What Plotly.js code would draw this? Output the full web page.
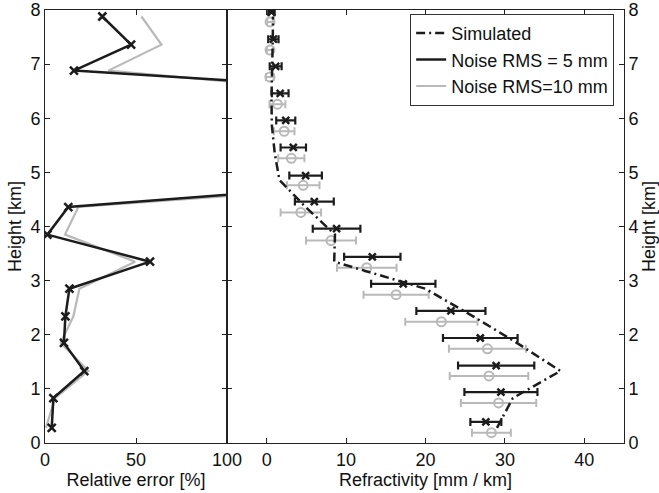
<!DOCTYPE html>
<html><head><meta charset="utf-8">
<script src="https://cdn.plot.ly/plotly-3.0.1.min.js"></script>
<style>html,body{margin:0;padding:0;background:#fff}#chart{width:659px;height:493px}</style>
</head><body><div id="chart"></div><script>
// Heights [km] of the retrieval levels (left panel & simulated profile)
const heights      = [0.28, 0.83, 1.33, 1.85, 2.34, 2.85, 3.35, 3.85, 4.36, 4.86, 5.37, 5.87, 6.38, 6.88, 7.36, 7.88];
// Heights used for plotting the two noisy retrievals (slightly offset in the figure)
const heights5mm   = [0.39, 0.94, 1.43, 1.94, 2.44, 2.94, 3.44, 3.96, 4.46, 4.94, 5.46, 5.96, 6.46, 6.96, 7.46, 7.96];
const heights10mm  = [0.19, 0.74, 1.24, 1.74, 2.24, 2.74, 3.24, 3.74, 4.26, 4.76, 5.26, 5.76, 6.26, 6.76, 7.26, 7.78];

// Relative error [%]
const relErr5mm    = [3.7, 4.6, 21.6, 10.4, 11.2, 13.4, 57.7, 1.3, 12.8, 205, 300, 380, 250, 15.9, 47.3, 31.5];
const relErr10mm   = [0.5, 5.5, 23.8, 8.6, 15.6, 18.9, 49.5, 11.0, 18.3, 222, 300, 350, 198, 34.8, 64, 53];

// Refractivity [mm/km]
const simulatedN   = [29.0, 31.0, 37.0, 31.5, 26.0, 20.0, 8.5, 8.6, 4.9, 1.6, 1.0, 0.65, 0.6, 0.7, 0.75, 0.8];
const noisy5mmN    = [27.6, 29.5, 28.9, 26.9, 23.2, 17.2, 13.3, 8.8, 6.0, 4.9, 3.35, 2.4, 1.7, 1.13, 0.84, 0.6];
const noisy5mmErr  = [1.95, 4.6, 4.8, 4.7, 4.35, 4.05, 3.55, 3.0, 2.45, 2.05, 1.6, 1.2, 1.05, 0.75, 0.65, 0.4];
const noisy10mmN   = [28.3, 29.2, 28.0, 27.8, 22.0, 16.3, 12.6, 8.1, 4.3, 4.6, 3.1, 2.2, 1.35, 0.4, 0.42, 0.42];
const noisy10mmErr = [2.45, 4.75, 4.95, 4.85, 4.55, 4.1, 3.75, 3.15, 2.55, 2.05, 1.65, 1.3, 1.0, 0.5, 0.4, 0.35];

const legendNames = ['Simulated', 'Noise RMS = 5 mm', 'Noise RMS=10 mm'];
const relTicks = [0, 50, 100];
const refTicks = [0, 10, 20, 30, 40];
const hTicks = [0, 1, 2, 3, 4, 5, 6, 7, 8];

const BLACK = '#1c1c1c', GRAY = '#b9b9b9';
const FONT = 'Liberation Sans, Arial, Helvetica, sans-serif';

const traces = [
  // Left panel
  {x: relErr10mm, y: heights, xaxis: 'x', yaxis: 'y', mode: 'lines', showlegend: false,
   line: {color: GRAY, width: 2.2}},
  {x: relErr5mm, y: heights, xaxis: 'x', yaxis: 'y', mode: 'lines+markers', showlegend: false,
   line: {color: BLACK, width: 2.5},
   marker: {symbol: 'x-thin-open', size: 8, color: BLACK, line: {color: BLACK, width: 2.5}}},
  // Right panel
  {x: noisy10mmN, y: heights10mm, xaxis: 'x2', yaxis: 'y2', mode: 'markers', showlegend: false,
   marker: {symbol: 'circle-open', size: 9, color: GRAY, line: {color: GRAY, width: 2}},
   error_x: {type: 'data', array: noisy10mmErr, color: GRAY, thickness: 2, width: 4}},
  {x: noisy5mmN, y: heights5mm, xaxis: 'x2', yaxis: 'y2', mode: 'markers', showlegend: false,
   marker: {symbol: 'x-thin-open', size: 7, color: BLACK, line: {color: BLACK, width: 2.5}},
   error_x: {type: 'data', array: noisy5mmErr, color: BLACK, thickness: 2.2, width: 4}},
  {x: simulatedN, y: heights, xaxis: 'x2', yaxis: 'y2', mode: 'lines', name: legendNames[0],
   line: {color: BLACK, width: 2.5, dash: '9px,4px,2px,4px'}},
  // legend-only entries
  {x: [null], y: [null], xaxis: 'x2', yaxis: 'y2', mode: 'lines', name: legendNames[1],
   line: {color: BLACK, width: 2.5}},
  {x: [null], y: [null], xaxis: 'x2', yaxis: 'y2', mode: 'lines', name: legendNames[2],
   line: {color: GRAY, width: 2}}
];

const axCommon = {
  showline: true, linecolor: '#222', linewidth: 1, mirror: 'ticks',
  ticks: 'inside', ticklen: 5, tickcolor: '#222', tickwidth: 1,
  showgrid: false, zeroline: false,
  tickfont: {family: FONT, size: 18, color: '#111'}
};
const split = 182 / 579;

const layout = {
  width: 659, height: 493,
  margin: {l: 45, r: 35, t: 10, b: 50, pad: 0},
  paper_bgcolor: '#fff', plot_bgcolor: '#fff',
  font: {family: FONT, size: 18, color: '#111'},
  showlegend: true,
  legend: {x: 0.983, xanchor: 'right', y: 0.991, yanchor: 'top',
           bgcolor: '#fff', bordercolor: '#333', borderwidth: 1,
           font: {family: FONT, size: 18, color: '#111'}, itemwidth: 30, tracegroupgap: 0},
  xaxis: Object.assign({}, axCommon, {domain: [0, split], range: [0, 100], tickvals: relTicks,
           anchor: 'y', title: {text: 'Relative error [%]', font: {family: FONT, size: 18}, standoff: 4}}),
  yaxis: Object.assign({}, axCommon, {domain: [0, 1], range: [0, 8], tickvals: hTicks,
           anchor: 'x', title: {text: 'Height [km]', font: {family: FONT, size: 18}, standoff: 4}}),
  xaxis2: Object.assign({}, axCommon, {domain: [split, 1], range: [-5, 45], tickvals: refTicks,
           anchor: 'y2', title: {text: 'Refractivity [mm / km]', font: {family: FONT, size: 18}, standoff: 4}}),
  yaxis2: Object.assign({}, axCommon, {domain: [0, 1], range: [0, 8], tickvals: hTicks, side: 'right',
           anchor: 'x2', title: {text: 'Height [km]', font: {family: FONT, size: 18}, standoff: 5}})
};

Plotly.newPlot('chart', traces, layout, {staticPlot: true, displayModeBar: false});
</script></body></html>
